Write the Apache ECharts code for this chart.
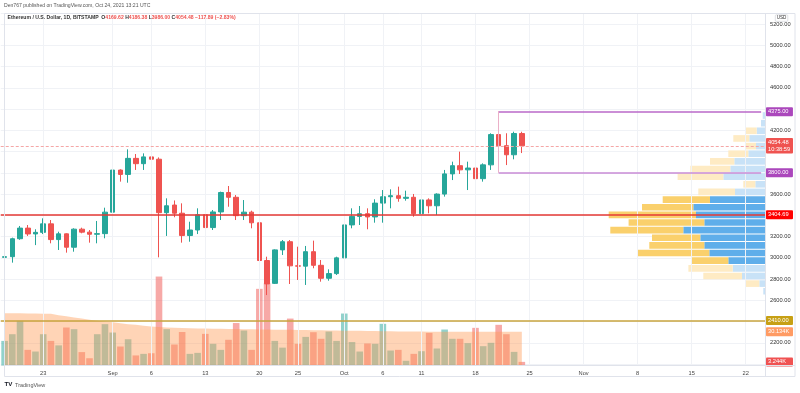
<!DOCTYPE html>
<html><head><meta charset="utf-8">
<script src="https://cdn.jsdelivr.net/npm/echarts@6/dist/echarts.min.js"></script>
<style>html,body{margin:0;padding:0;background:#fff}#c{width:800px;height:393px}</style>
</head><body><div id="c"></div>
<script>
// ---------- DATA ----------
const firstDay = '2021-08-18';
const dayCount = 99; // Aug 18 .. Nov 24 (axis range)
const open = [3005,3011,3180,3280,3225,3240,3320,3172,3226,3100,3270,3242,3222,3228,
  3430,3826,3785,3936,3886,3950,3928,3425,3497,3420,3210,3262,3405,3285,3432,3615,3570,3397,3430,3330,2975,2760,3075,3152,2925,2922,3058,2930,2808,2852,
  3000,3310,3390,3415,3385,3515,3575,3585,3560,3570,3415,3545,3490,3600,3790,3867,3828,3845,3745,3875,4160,4055,3970,4169.62];
const close = [3011,3180,3280,3225,3240,3320,3172,3226,3100,3270,3242,3222,3228,3430,
  3826,3785,3936,3886,3950,3928,3425,3490,3420,3210,3262,3405,3285,3432,3615,3570,3397,3430,3330,2975,2755,3075,3152,2925,2922,3058,2930,2808,2852,3000,
  3310,3390,3415,3385,3515,3575,3585,3560,3570,3415,3545,3490,3600,3790,3867,3828,3845,3745,3875,4160,4055,3970,4170,4054.48];
const low = [2949,2955,3170,3206,3120,3224,3137,3074,3049,3058,3231,3143,3137,3184,
  3382,3717,3707,3827,3827,3864,3005,3206,3382,3143,3152,3224,3105,3262,3356,3481,3356,3356,3278,2911,2650,2754,3027,2754,2792,2745,2902,2776,2785,2839,
  2964,3278,3309,3269,3331,3331,3466,3528,3538,3387,3363,3419,3403,3576,3732,3789,3638,3670,3717,3827,3955,3873,3927,3986];
const high = [3121,3190,3300,3309,3269,3372,3356,3246,3231,3278,3284,3262,3347,3472,
  3842,3833,4021,3977,3983,3968,3945,3560,3540,3513,3340,3466,3425,3450,3623,3676,3591,3544,3444,3340,3011,3080,3168,3168,3105,3112,3162,2980,2892,3011,
  3325,3466,3488,3466,3551,3638,3645,3670,3632,3601,3598,3560,3607,3827,3905,3999,3905,3895,3889,4172,4375,4172,4187,4186.38];
const volumeK = [22,28,40,14,12.5,28,22,18,34,32.5,12,6.5,28,37,29.5,17,23.5,9,10.4,11,
  79.6,32.5,18.8,30,10.4,11.3,28.3,19.4,14,23,38,31.3,14,68.6,73.6,22,16,42,19.4,25.6,
  29.8,23.9,30.4,22,46.5,21,12.5,19.7,19.4,37.3,13.4,14,4.2,10.4,12.8,29.2,15.2,32.2,23.9,23.9,
  20,33.7,17.3,20.3,36.4,28,12.2,3.244];
const volumeMaK = [46.8,46.8,46.7,46.6,46.5,46.4,46.2,45,44,43,42,41,40,39.4,38.6,37.8,37,36.4,35.6,35,
  34.4,34.1,33.8,33.5,33.3,33.1,33,32.9,32.8,32.7,32.6,32.5,32.4,32.3,32.2,32.1,32,31.9,31.8,31.7,
  31.6,31.5,31.4,31.3,31.2,31.1,31,30.9,30.8,30.7,30.6,30.5,30.5,30.4,30.4,30.3,30.3,30.3,30.2,30.2,
  30.2,30.2,30.1,30.1,30.1,30.1,30.1,30.134];
// visible range volume profile (rows from top price to bottom price)
const vpHigh = 4375, vpLow = 2650;
const vpUp   = [2.3,4,8.3,15.7,9,16.7,30.7,34.7,41.7,9.7,30,55,71.7,69,60.7,81.7,64.7,60.7,55.7,36.7,32.3,23,5.7,1.7];
const vpDown = [0,0,10.7,16,10,20,24.3,40,45.7,12,36.7,47.3,51.3,87.3,75.7,73,48.3,55,72.3,36.3,44.3,38.7,14,0];
const vpValueArea = [11, 19];
// annotation levels
const supportLevel = 3404.69;
const lowerLevel = 2410;
const rangeStart = '2021-10-21', rangeTop = 4375, rangeBottom = 3800;
const tickDates = ['2021-08-23','2021-09-01','2021-09-06','2021-09-13','2021-09-20','2021-09-25','2021-10-01','2021-10-06','2021-10-11','2021-10-18','2021-10-25','2021-11-01','2021-11-08','2021-11-15','2021-11-22'];
const tickLabels = ['23','Sep','6','13','20','25','Oct','6','11','18','25','Nov','8','15','22'];

// ---------- BUILD ----------
const cats = [];
for (let i = 0; i < dayCount; i++) {
  const d = new Date(Date.parse(firstDay + 'T00:00:00Z') + i * 86400000);
  cats.push(d.toISOString().slice(0, 10));
}
const lastCat = cats[cats.length - 1];
const candles = open.map((o, i) => [o, close[i], low[i], high[i]]);
const UP = '#26A69A', DN = '#EF5350';
const vols = volumeK.map((v, i) => ({ value: v, itemStyle: { color: close[i] >= open[i] ? 'rgba(38,166,154,0.5)' : 'rgba(239,83,80,0.5)' } }));
const rowH = (vpHigh - vpLow) / vpUp.length;
const vpData = vpUp.map((u, i) => [vpHigh - i * rowH, vpHigh - (i + 1) * rowH, u, vpDown[i], (i >= vpValueArea[0] && i <= vpValueArea[1]) ? 1 : 0]);

const lastClose = close[close.length - 1];
const markerLevels = [rangeTop, lastClose, rangeBottom, supportLevel, lowerLevel];
const FONT = 'Liberation Sans, Arial, sans-serif';
const FS = 5.7;
function tag(text, bg, dist) {
  return { show: true, position: 'end', distance: dist == null ? 1 : dist, formatter: text, color: '#fff', backgroundColor: bg,
    padding: [1.5, 2, 1, 2], fontSize: FS, fontFamily: FONT, width: 23, lineHeight: 6.5, borderRadius: 1 };
}

// price scale geometry
const gridTop = 13.3, gridBottom = 27.5, gridRightEdge = 765;
const priceMin = 1987.4, priceMax = 5300.7;

const option = {
  animation: false,
  textStyle: { fontFamily: FONT },
  title: {
    left: 7.5, top: 15, padding: 0,
    text: '{b|Ethereum / U.S. Dollar, 1D, BITSTAMP}  {b|O}{r|4169.62} {b|H}{r|4186.38} {b|L}{r|3986.00} {b|C}{r|4054.48} {r|−117.89 (−2.83%)}',
    textStyle: { fontSize: 5.1, rich: { b: { color: '#333', fontSize: 5.1, fontFamily: FONT }, r: { color: '#EF5350', fontSize: 5.1, fontFamily: FONT } } }
  },
  grid: [
    { left: 0.74, right: 800 - gridRightEdge, top: gridTop, bottom: gridBottom },
    { left: 0.74, right: 800 - gridRightEdge, top: 276.1, bottom: gridBottom },
    { left: gridRightEdge - 200, right: 800 - gridRightEdge, top: gridTop, bottom: gridBottom }
  ],
  xAxis: [
    { type: 'category', data: cats, gridIndex: 0, boundaryGap: true,
      axisLine: { show: false }, axisTick: { show: false }, splitLine: { show: false },
      axisLabel: { interval: (i, v) => tickDates.indexOf(v) >= 0, formatter: (v) => tickLabels[tickDates.indexOf(v)],
        fontSize: FS, color: '#444', margin: 4.5, fontFamily: FONT } },
    { type: 'category', data: cats, gridIndex: 1, boundaryGap: true, show: false },
    { type: 'value', gridIndex: 2, min: 0, max: 200, inverse: true, show: false }
  ],
  yAxis: [
    { type: 'value', gridIndex: 0, position: 'right', min: priceMin, max: priceMax, splitNumber: 16, scale: true,
      axisLine: { show: false }, axisTick: { show: false },
      splitLine: { show: true, lineStyle: { color: '#F0F2F6', width: 1 } },
      axisLabel: { showMinLabel: false, showMaxLabel: false, fontSize: FS, color: '#333', margin: 5, fontFamily: FONT,
        formatter: (v) => {
          if (Math.abs(v / 200 - Math.round(v / 200)) > 1e-6) return '';
          for (const m of markerLevels) if (Math.abs(v - m) < 60) return '';
          return v.toFixed(2);
        } } },
    { type: 'value', gridIndex: 1, min: 0, max: 80, show: false },
    { type: 'value', gridIndex: 2, min: priceMin, max: priceMax, show: false }
  ],
  series: [
    { // vertical grid lines at time labels
      type: 'line', xAxisIndex: 0, yAxisIndex: 0, data: cats.map(() => null), z: 1, silent: true,
      symbol: 'none', lineStyle: { opacity: 0 },
      markLine: { silent: true, symbol: ['none', 'none'], label: { show: false },
        lineStyle: { color: '#F0F2F6', width: 1, type: 'solid' },
        data: tickDates.map(d => ({ xAxis: d })) }
    },
    {
      type: 'bar', xAxisIndex: 1, yAxisIndex: 1, data: vols, barWidth: 6.6, z: 2, silent: true,
      markLine: { silent: true, symbol: ['none', 'none'], lineStyle: { color: 'rgba(0,0,0,0)', width: 0.1 },
        data: [
          { yAxis: 30.134, label: tag('30.134K', '#FF9B63') },
          { yAxis: volumeK[volumeK.length - 1], label: tag('3.244K', '#F05252') }
        ] }
    },
    {
      type: 'line', xAxisIndex: 1, yAxisIndex: 1, data: volumeMaK, symbol: 'none', z: 3, silent: true,
      lineStyle: { width: 0, opacity: 0 }, areaStyle: { color: 'rgba(255,152,80,0.42)', opacity: 1 }
    },
    {
      type: 'custom', xAxisIndex: 2, yAxisIndex: 2, data: vpData, z: 2, silent: true,
      renderItem: function (params, api) {
        const top = api.value(0), bot = api.value(1), up = api.value(2), dn = api.value(3), va = api.value(4);
        const pR = api.coord([0, top]);
        const pU = api.coord([up, bot]);
        const pD = api.coord([up + dn, bot]);
        const y0 = pR[1] + 0.5, h = pU[1] - pR[1] - 1;
        return { type: 'group', children: [
          { type: 'rect', shape: { x: pU[0], y: y0, width: pR[0] - pU[0], height: h }, style: { fill: va ? '#5FAEEA' : '#C8E2F7' } },
          { type: 'rect', shape: { x: pD[0], y: y0, width: pU[0] - pD[0], height: h }, style: { fill: va ? '#FAD06C' : '#FEEBC4' } }
        ] };
      }
    },
    {
      type: 'candlestick', xAxisIndex: 0, yAxisIndex: 0, data: candles, barWidth: 5, z: 4, silent: true,
      itemStyle: { color: UP, color0: DN, borderColor: UP, borderColor0: DN, borderWidth: 1 },
      markLine: { silent: true, symbol: ['none', 'none'], z: 5,
        data: [
          { yAxis: lastClose, lineStyle: { color: '#F5A6A6', width: 1, type: [3, 2] }, label: tag('4054.48\n10:38:59', '#EF5350') },
          { yAxis: supportLevel, lineStyle: { color: '#E53935', width: 1.6, type: 'solid' }, label: tag('3404.69', '#FF0000') },
          { yAxis: lowerLevel, lineStyle: { color: '#C9A43E', width: 1.5, type: 'solid' }, label: tag('2410.00', '#C7A014') },
          [ { coord: [rangeStart, rangeTop], lineStyle: { color: '#BA68C8', width: 1.5, type: 'solid' }, label: tag('4375.00', '#AB47BC', 4.8) },
            { coord: [lastCat, rangeTop], lineStyle: { color: '#BA68C8', width: 1.5, type: 'solid' }, label: tag('4375.00', '#AB47BC', 4.8) } ],
          [ { coord: [rangeStart, rangeBottom], lineStyle: { color: '#C98BD6', width: 1.5, type: 'solid' }, label: tag('3800.00', '#AB47BC', 4.8) },
            { coord: [lastCat, rangeBottom], lineStyle: { color: '#C98BD6', width: 1.5, type: 'solid' }, label: tag('3800.00', '#AB47BC', 4.8) } ],
          [ { coord: [rangeStart, rangeTop], lineStyle: { color: '#EBB0C8', width: 1, type: 'solid' }, label: { show: false } },
            { coord: [rangeStart, rangeBottom], lineStyle: { color: '#EBB0C8', width: 1, type: 'solid' }, label: { show: false } } ]
        ] }
    }
  ],
  graphic: [
    { type: 'text', left: 4, top: 3.5, z: 100, style: { text: 'Den767 published on TradingView.com, Oct 24, 2021 13:21 UTC', fontSize: 5.1, fill: '#555', fontFamily: FONT } },
    { type: 'rect', z: 100, silent: true, shape: { x: 4.5, y: 13.5, width: 790.5, height: 363 }, style: { fill: 'none', stroke: '#E0E3EB', lineWidth: 1 } },
    { type: 'line', z: 100, silent: true, shape: { x1: 765.5, y1: 13.5, x2: 765.5, y2: 376.5 }, style: { stroke: '#E0E3EB', lineWidth: 1 } },
    { type: 'line', z: 100, silent: true, shape: { x1: 4.5, y1: 365.5, x2: 795, y2: 365.5 }, style: { stroke: '#E0E3EB', lineWidth: 1 } },
    { type: 'group', left: 775, top: 14.5, z: 100, children: [
      { type: 'rect', shape: { x: 0, y: 0, width: 12.5, height: 6.5, r: 1 }, style: { fill: '#fff', stroke: '#C9CCD4', lineWidth: 0.6 } },
      { type: 'text', style: { x: 6.25, y: 3.4, text: 'USD', fontSize: 4.6, fill: '#333', align: 'center', verticalAlign: 'middle', fontFamily: FONT } }
    ] },
    { type: 'text', left: 4.5, top: 381.5, z: 100, style: { text: 'TV', fontSize: 6.2, fontWeight: 'bold', fill: '#131722', fontFamily: FONT } },
    { type: 'text', left: 15, top: 382, z: 100, style: { text: 'TradingView', fontSize: 5.5, fill: '#555', fontFamily: FONT } }
  ]
};
const chart = echarts.init(document.getElementById('c'), null, { renderer: 'canvas' });
chart.setOption(option);
</script>
</body></html>
